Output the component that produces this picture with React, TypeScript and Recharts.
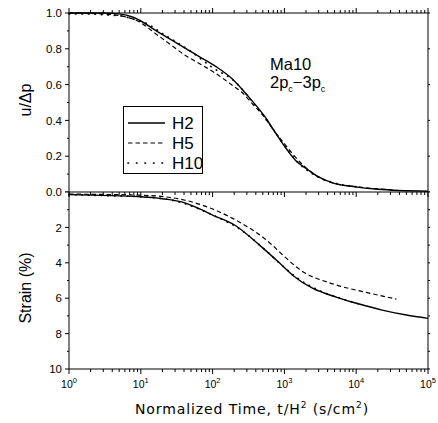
import React from 'react';
import { LineChart, Line, XAxis, YAxis, Legend } from 'recharts';

const FONT = '"Liberation Sans", Arial, sans-serif';

// x: normalized time t/H^2 (s/cm^2), log axis
const decades = [1, 10, 100, 1000, 10000, 100000];
const minorSteps = [2, 3, 4, 5, 6, 7, 8, 9];

// y ticks
const uTicks = [0, 0.1, 0.2, 0.3, 0.4, 0.5, 0.6, 0.7, 0.8, 0.9, 1.0];
const uMajor = [0, 0.2, 0.4, 0.6, 0.8, 1.0];
const uLabels = [0.2, 0.4, 0.6, 0.8, 1.0];
const strainTicks = [0, 1, 2, 3, 4, 5, 6, 7, 8, 9, 10];
const strainMajor = [0, 2, 4, 6, 8, 10];

// top panel: u/Δp
const uH2T = [1, 3, 5, 8, 18, 43, 66, 112, 190, 320, 560, 780, 1070, 1480, 2040, 2820, 4790, 9100, 20000, 100000];
const uH2 = [1.0, 1.0, 0.995, 0.975, 0.89, 0.8, 0.755, 0.7, 0.63, 0.53, 0.41, 0.32, 0.24, 0.17, 0.13, 0.09, 0.05, 0.03, 0.015, 0.004];
const uH5T = [1, 3, 8, 18, 43, 78, 123, 182, 251, 363, 501, 692, 955, 1318, 1820, 2818, 4786, 10000, 36300];
const uH5 = [1.0, 0.995, 0.965, 0.87, 0.76, 0.7, 0.65, 0.6, 0.56, 0.49, 0.43, 0.35, 0.28, 0.21, 0.15, 0.09, 0.05, 0.03, 0.01];
const uH10T = [1, 2, 3, 5, 8, 13, 20, 32, 50, 100, 200, 400, 700, 1000, 1500, 2500, 5000, 10000];
const uH10 = [0.995, 0.995, 0.99, 0.985, 0.965, 0.935, 0.885, 0.835, 0.785, 0.695, 0.62, 0.48, 0.35, 0.26, 0.17, 0.1, 0.05, 0.03];

// bottom panel: strain (%)
const sH2T = [1, 10, 20, 40, 70, 100, 200, 450, 850, 1300, 2500, 5400, 11000, 23000, 50000, 100000];
const sH2 = [0.15, 0.27, 0.38, 0.6, 1.0, 1.3, 1.85, 3.0, 4.0, 4.7, 5.45, 5.95, 6.33, 6.67, 6.95, 7.14];
const sH5T = [1, 10, 40, 70, 190, 560, 1070, 1620, 4800, 13800, 36300];
const sH5 = [0.12, 0.18, 0.45, 0.73, 1.49, 2.71, 3.75, 4.37, 5.2, 5.67, 6.05];
const sH10T = [1, 3, 10, 30, 100, 250, 500, 900, 1500, 3000, 6000, 11000];
const sH10 = [0.15, 0.2, 0.27, 0.5, 1.3, 2.15, 3.15, 4.1, 4.85, 5.55, 6.0, 6.33];

const names = ['H2', 'H5', 'H10'];
const styles: Record<string, { w: number; dash?: string; legendDash?: string; cap?: 'round' | 'butt' }> = {
  H2: { w: 1.4 },
  H5: { w: 1.2, dash: '4.5 3', legendDash: '4.5 3' },
  H10: { w: 1.7, dash: '0.5 6', legendDash: '0.5 8', cap: 'round' },
};

// one row per time value, a column per series
const merge = (pairs: [number[], number[]][]) => {
  const rows = new Map<number, any>();
  pairs.forEach(([ts, vs], k) => {
    ts.forEach((t, i) => {
      const row = rows.get(t) ?? { t };
      row[names[k]] = vs[i];
      rows.set(t, row);
    });
  });
  return [...rows.values()].sort((a, b) => a.t - b.t);
};
const uData = merge([[uH2T, uH2], [uH5T, uH5], [uH10T, uH10]]);
const sData = merge([[sH2T, sH2], [sH5T, sH5], [sH10T, sH10]]);

const xTicks = decades.flatMap((d, i) => (i < decades.length - 1 ? [d, ...minorSteps.map((m) => d * m)] : [d]));

const near = (arr: number[], v: number) => arr.some((a) => Math.abs(a - v) < 1e-6);

function XTick(props: any) {
  const { payload, dir, label } = props;
  const x = Number(props.x);
  const y = Number(props.y);
  const lg = Math.log10(payload.value);
  const e = Math.round(lg);
  const major = Math.abs(lg - e) < 1e-6;
  const len = major ? 5 : 3;
  return (
    <g>
      <path d={`M${x},${y}V${y + dir * len}`} stroke="#000" strokeWidth={1} fill="none" />
      {label && major && (
        <text x={x} y={y + 19} textAnchor="middle" fontSize={10.5} fontFamily={FONT} fill="#000" stroke="none">
          10
          <tspan dy={-5} fontSize={7.5}>
            {e}
          </tspan>
        </text>
      )}
    </g>
  );
}

function YTick(props: any) {
  const { payload, side, majors, labels, fmt } = props;
  const x = Number(props.x);
  const y = Number(props.y);
  const v = payload.value;
  const len = near(majors, v) ? 4 : 2;
  const dir = side === 'left' ? -1 : 1;
  return (
    <g>
      <path d={`M${x},${y}H${x + dir * len}`} stroke="#000" strokeWidth={1} fill="none" />
      {labels && near(labels, v) && (
        <text x={x - 7} y={y} dy="0.36em" textAnchor="end" fontSize={11.5} fontFamily={FONT} fill="#000" stroke="none">
          {fmt(v)}
        </text>
      )}
    </g>
  );
}

const xBase = {
  type: 'number' as const,
  scale: 'log' as const,
  domain: [1, 100000],
  dataKey: 't',
  ticks: xTicks,
  interval: 0 as const,
  tickLine: false,
  tickSize: 0,
  tickMargin: 0,
  stroke: '#000',
};

const yBase = {
  type: 'number' as const,
  interval: 0 as const,
  tickLine: false,
  tickSize: 0,
  tickMargin: 0,
  stroke: '#000',
};

const renderLegend = (props: any) => {
  const items = [...(props.payload ?? [])].sort((a: any, b: any) => names.indexOf(a.value) - names.indexOf(b.value));
  return (
    <svg width={86} height={68}>
      <rect x={0.5} y={0.5} width={79} height={67} fill="#fff" stroke="#000" strokeWidth={1} />
      {items.map((it: any, i: number) => {
        const st = styles[it.value];
        const cy = 17 + i * 20;
        return (
          <g key={it.value}>
            <line x1={5} x2={42} y1={cy} y2={cy} stroke="#000" strokeWidth={st.w} strokeDasharray={st.legendDash} strokeLinecap={st.cap ?? 'butt'} />
            <text x={49} y={cy} dy="0.36em" fontSize={17} fontFamily={FONT} fill="#000">
              {it.value}
            </text>
          </g>
        );
      })}
    </svg>
  );
};

const lines = () =>
  names.map((n) => (
    <Line
      key={n}
      name={n}
      dataKey={n}
      type="monotone"
      connectNulls
      stroke="#000"
      strokeWidth={styles[n].w}
      strokeDasharray={styles[n].dash}
      strokeLinecap={styles[n].cap ?? 'butt'}
      dot={false}
      activeDot={false}
      isAnimationActive={false}
    />
  ));

export default function App() {
  return (
    <div style={{ position: 'absolute', left: 0, top: 0, width: 438, height: 423, background: '#fff' }}>
      <div style={{ position: 'absolute', left: 0, top: 0 }}>
        <LineChart width={438} height={192} data={uData} margin={{ top: 12, right: 9, bottom: 0, left: 0 }}>
          <XAxis {...xBase} height={0} axisLine={false} tick={false} />
          <XAxis {...xBase} xAxisId="top" orientation="top" height={1} allowDataOverflow axisLine tick={(p: any) => <XTick {...p} dir={-1} />} />
          <YAxis
            {...yBase}
            domain={[0, 1]}
            ticks={uTicks}
            width={69}
            axisLine
            tick={(p: any) => <YTick {...p} side="left" majors={uMajor} labels={uLabels} fmt={(v: number) => v.toFixed(1)} />}
          />
          <YAxis
            {...yBase}
            yAxisId="r"
            orientation="right"
            domain={[0, 1]}
            allowDataOverflow
            ticks={uMajor}
            width={1}
            axisLine
            tick={(p: any) => <YTick {...p} side="right" majors={[]} />}
          />
          {lines()}
          <Legend
            layout="vertical"
            verticalAlign="middle"
            align="center"
            wrapperStyle={{ left: 123, top: 106, width: 86, height: 68 }}
            content={renderLegend}
          />
        </LineChart>
      </div>
      <div style={{ position: 'absolute', left: 0, top: 180 }}>
        <LineChart width={438} height={243} data={sData} margin={{ top: 11, right: 9, bottom: 0, left: 0 }}>
          <XAxis {...xBase} height={54} axisLine tick={(p: any) => <XTick {...p} dir={1} label />} />
          <XAxis {...xBase} xAxisId="top" orientation="top" height={1} allowDataOverflow axisLine tick={(p: any) => <XTick {...p} dir={1} />} />
          <YAxis
            {...yBase}
            domain={[0, 10]}
            reversed
            ticks={strainTicks}
            width={69}
            axisLine
            tick={(p: any) => (
              <YTick {...p} side="left" majors={strainMajor} labels={strainMajor} fmt={(v: number) => (v === 0 ? '0.0' : String(v))} />
            )}
          />
          <YAxis
            {...yBase}
            yAxisId="r"
            orientation="right"
            domain={[0, 10]}
            reversed
            allowDataOverflow
            ticks={strainTicks}
            width={1}
            axisLine
            tick={(p: any) => <YTick {...p} side="right" majors={[]} />}
          />
          {lines()}
        </LineChart>
      </div>
      <svg width={438} height={423} style={{ position: 'absolute', left: 0, top: 0, pointerEvents: 'none' }}>
        <text transform="translate(25,100) rotate(-90)" textAnchor="middle" dy="0.36em" fontSize={16} fontFamily={FONT} fill="#000">
          u/Δp
        </text>
        <text transform="translate(25,288) rotate(-90)" textAnchor="middle" dy="0.36em" fontSize={16} fontFamily={FONT} fill="#000">
          Strain (%)
        </text>
        <text x={252} y={414} textAnchor="middle" fontSize={14} fontFamily='"DejaVu Sans", sans-serif' letterSpacing={0.9} fill="#000">
          Normalized Time, t/H
          <tspan dy={-6} fontSize={9}>2</tspan>
          <tspan dy={6}> (s/cm</tspan>
          <tspan dy={-6} fontSize={9}>2</tspan>
          <tspan dy={6}>)</tspan>
        </text>
        <text x={270} y={70} fontSize={16.5} fontFamily={FONT} fill="#000">
          Ma10
        </text>
        <text x={270} y={88} fontSize={16.5} fontFamily={FONT} fill="#000">
          2p
          <tspan dy={4} fontSize={9}>c</tspan>
          <tspan dy={-4}>−3p</tspan>
          <tspan dy={4} fontSize={9}>c</tspan>
        </text>
      </svg>
    </div>
  );
}
